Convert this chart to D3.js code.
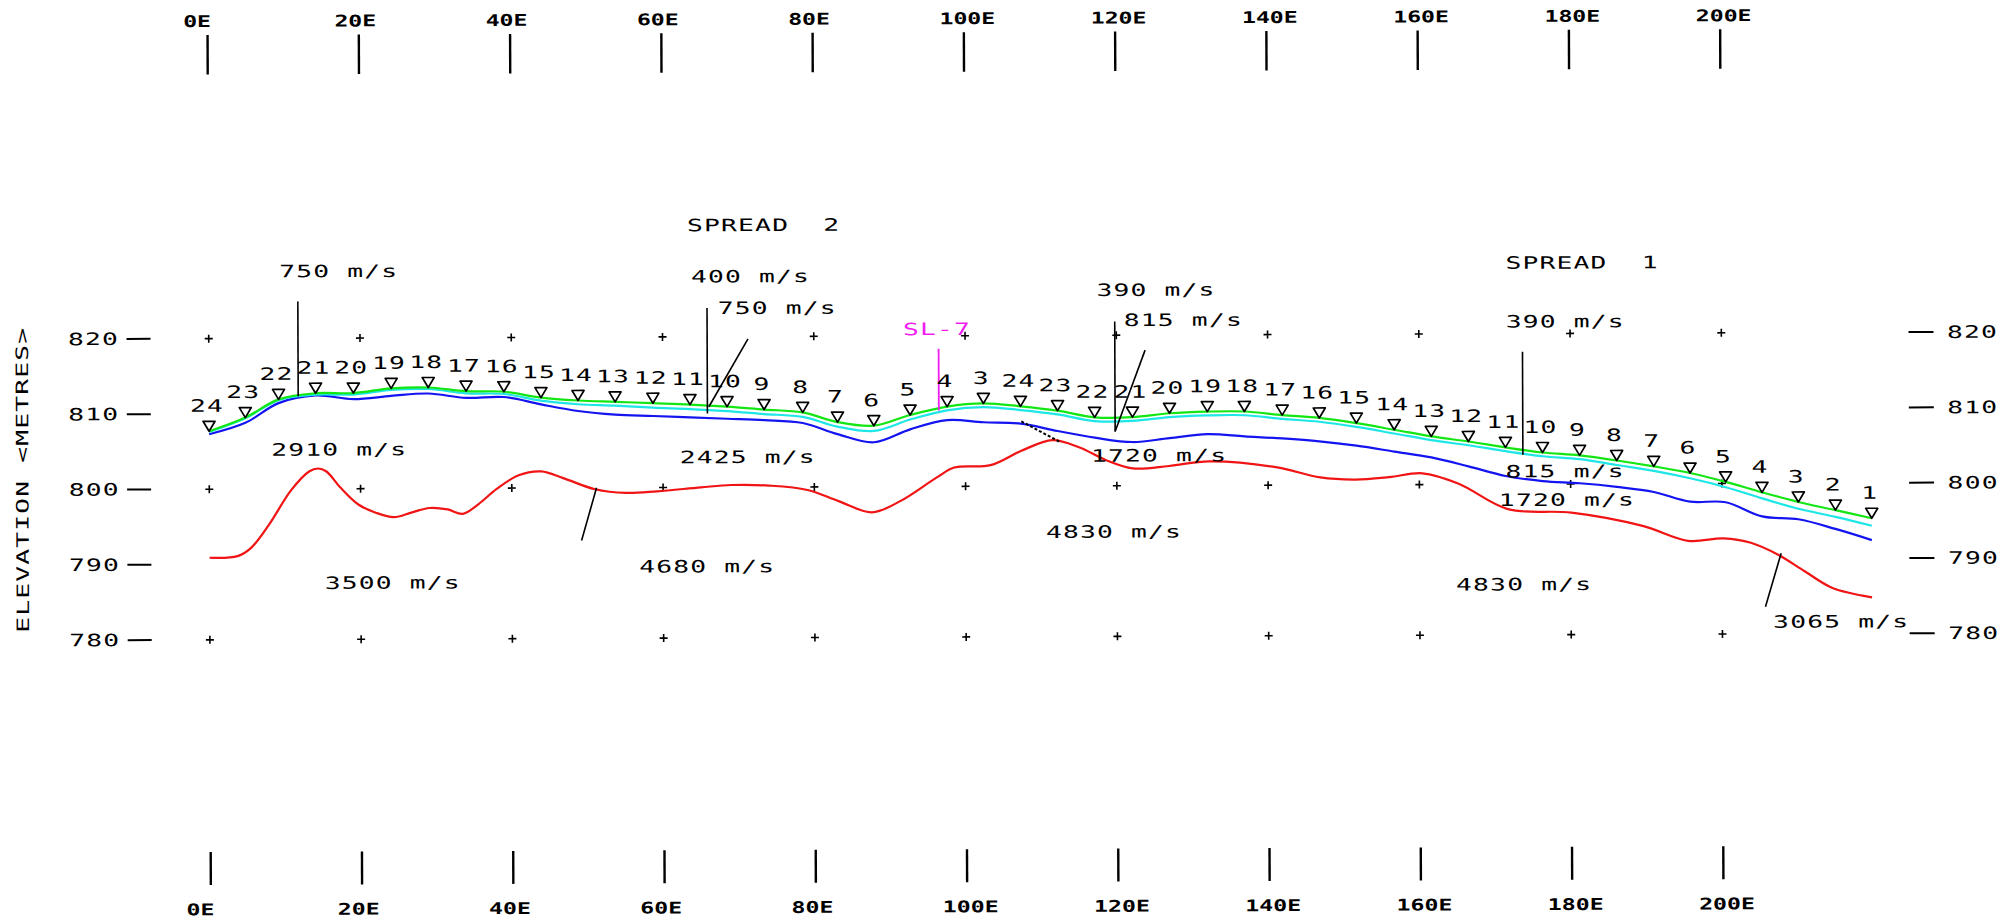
<!DOCTYPE html>
<html>
<head>
<meta charset="utf-8">
<script src="https://cdn.jsdelivr.net/npm/d3@7"></script>
<style>
  body { margin: 0; background: #fff; }
  text { font-family: 'DejaVu Sans Mono', monospace; font-size: 17px; fill: #000; white-space: pre; letter-spacing: 0.75px; }
</style>
</head>
<body>
<div id="chartEl"></div>
<script>
// chainage axis (metres east)
const chainTicks = [0, 20, 40, 60, 80, 100, 120, 140, 160, 180, 200];
const chainTickLabels = ['0E', '20E', '40E', '60E', '80E', '100E', '120E', '140E', '160E', '180E', '200E'];
const elevTicks = [820, 810, 800, 790, 780];
const gridElev = [820, 800, 780];

// geophones: spread 2 (24..3) then spread 1 (24..1)
const stationLabels = [24, 23, 22, 21, 20, 19, 18, 17, 16, 15, 14, 13, 12, 11, 10, 9, 8, 7, 6, 5, 4, 3,
  24, 23, 22, 21, 20, 19, 18, 17, 16, 15, 14, 13, 12, 11, 10, 9, 8, 7, 6, 5, 4, 3, 2, 1];
const stationChain = [0, 4.8, 9.2, 14.1, 19.1, 24.1, 29.0, 34.0, 39.0, 43.9, 48.8, 53.7, 58.7, 63.6, 68.5, 73.4, 78.5, 83.1, 87.9, 92.7, 97.6, 102.4,
  107.3, 112.2, 117.1, 122.1, 127.0, 132.0, 136.9, 141.9, 146.8, 151.7, 156.7, 161.6, 166.5, 171.4, 176.3, 181.2, 186.1, 191.0, 195.8, 200.5, 205.3, 210.1, 215.0, 219.8];
// ground surface at the geophones
const groundElev = [807.7, 809.5, 811.9, 812.7, 812.7, 813.3, 813.4, 812.9, 812.8, 812.0, 811.6, 811.4, 811.2, 811.0, 810.7, 810.3, 809.9, 808.6, 808.1, 809.5, 810.6, 811.0,
  810.6, 810.0, 809.1, 809.1, 809.6, 809.8, 809.8, 809.3, 808.9, 808.2, 807.3, 806.4, 805.7, 804.9, 804.2, 803.8, 803.1, 802.3, 801.4, 800.2, 798.8, 797.5, 796.4, 795.3];
// base of topsoil (cyan)
const cyanElev = [807.6, 809.4, 811.8, 812.5, 812.5, 813.1, 813.2, 812.6, 812.5, 811.6, 811.1, 810.9, 810.6, 810.4, 810.1, 809.7, 809.3, 808.0, 807.4, 808.9, 810.1, 810.5,
  810.1, 809.5, 808.6, 808.6, 809.1, 809.3, 809.3, 808.8, 808.4, 807.7, 806.8, 805.9, 805.2, 804.4, 803.7, 803.3, 802.5, 801.7, 800.7, 799.5, 798.0, 796.6, 795.5, 794.3];
// first refractor (blue)
const blueElev = [807.3, 808.8, 811.4, 812.4, 811.9, 812.3, 812.6, 812.0, 812.1, 811.1, 810.2, 809.7, 809.5, 809.3, 809.1, 808.9, 808.5, 807.0, 805.9, 807.6, 808.8, 808.5,
  808.3, 807.3, 806.4, 805.8, 806.3, 806.8, 806.5, 806.2, 805.8, 805.2, 804.4, 803.6, 802.4, 801.1, 800.4, 800.1, 799.6, 798.9, 797.6, 797.5, 795.6, 795.2, 793.9, 792.4];

// bedrock refractor (red)
const redChain = [0, 3.7, 5.5, 7.9, 10.8, 13.2, 14.4, 15.5, 17.3, 19.7, 22.0, 24.4, 26.7, 29.1, 31.5, 33.5, 35.6, 38.0, 40.9, 43.9,
  46.8, 51.0, 55.1, 59.2, 65.0, 69.0, 74.0, 79.1, 83.2, 87.6, 91.4, 96.2, 98.5, 103.3, 107.4, 111.5, 115.1, 118.6, 122.1, 126.9,
  132.2, 141.0, 146.9, 151.5, 156.0, 160.4, 165.2, 171.7, 180.1, 189.5, 195.5, 200.2, 203.8, 207.4, 210.9, 214.5, 219.8];
const redElev = [790.9, 791.1, 792.2, 795.3, 799.8, 802.3, 802.7, 802.3, 800.2, 797.9, 796.8, 796.2, 796.8, 797.4, 797.2, 796.6, 797.9, 799.9, 801.7, 802.2,
  801.3, 799.8, 799.3, 799.5, 800.0, 800.3, 800.2, 799.6, 798.1, 796.6, 798.1, 801.2, 802.5, 802.8, 804.7, 806.1, 805.1, 803.4, 802.3, 802.6,
  803.2, 802.4, 801.0, 800.7, 801.0, 801.5, 800.1, 796.7, 796.2, 794.4, 792.4, 792.7, 792.1, 790.5, 788.3, 786.1, 784.8];

// annotations, anchored at left edge / middle height, in chainage & elevation
const noteText = ['SPREAD  2', 'SPREAD  1', '750 m/s', '400 m/s', '750 m/s', '390 m/s', '815 m/s', '390 m/s',
  '2910 m/s', '3500 m/s', '4680 m/s', '2425 m/s', '1720 m/s', '4830 m/s', '815 m/s', '1720 m/s', '4830 m/s', '3065 m/s'];
const noteChain = [63.3, 171.5, 9.35, 63.8, 67.3, 117.4, 121.0, 171.5,
  8.2, 15.2, 56.8, 62.2, 116.6, 110.6, 171.4, 170.5, 164.8, 206.7];
const noteElev = [834.8, 829.4, 828.9, 828.0, 823.8, 826.0, 822.0, 821.6,
  805.2, 787.5, 789.5, 804.0, 804.0, 793.9, 801.7, 797.9, 786.7, 781.6];
const lineName = 'SL-7';
const lineNameAt = [91.8, 820.9];

// leader lines [chain1, elev1, chain2, elev2]
const leaders = [
  [11.8, 824.9, 11.8, 812.3],
  [65.9, 823.8, 65.9, 809.8],
  [71.3, 819.7, 66.1, 810.7],
  [119.8, 821.8, 119.8, 807.2],
  [123.8, 818.0, 119.8, 807.2],
  [173.7, 817.6, 173.7, 803.9],
  [51.2, 800.0, 49.2, 793.0],
  [207.8, 790.7, 205.7, 783.6]
];
const sl7Leader = [96.5, 818.3, 96.5, 810.1];
const dottedLeader = [107.4, 808.6, 112.4, 805.9];

const width = 2005;
const height = 920;

const x = d3.scaleLinear().domain([0, 200]).range([209.2, 1721.8]);
const y = d3.scaleLinear().domain([780, 820]).range([636.8, 335.6]);

const svg = d3.select('#chartEl').append('svg')
  .attr('width', width)
  .attr('height', height)
  .style('display', 'block');

// the scan is slightly tilted
const g = svg.append('g').attr('transform', 'rotate(-0.22 1002 460)');

function plotText (parent, str, px, py, anchor, sx) {
  return parent.append('text')
    .attr('transform', 'translate(' + px + ',' + py + ') scale(' + (sx || 1.55) + ',1)')
    .attr('dy', '0.35em')
    .attr('text-anchor', anchor || 'start')
    .text(str);
}

// chainage ticks, top and bottom
chainTicks.forEach((c, i) => {
  g.append('line').attr('x1', x(c)).attr('x2', x(c)).attr('y1', 32).attr('y2', 71.5)
    .attr('stroke', '#000').attr('stroke-width', 2.4);
  g.append('line').attr('x1', x(c)).attr('x2', x(c)).attr('y1', 849).attr('y2', 882)
    .attr('stroke', '#000').attr('stroke-width', 2.4);
  plotText(g, chainTickLabels[i], x(c) - 24.4, 18.3, 'start', 1.45)
    .style('font-weight', 'bold').style('font-size', '16px').style('letter-spacing', '0px');
  plotText(g, chainTickLabels[i], x(c) - 24.4, 906.5, 'start', 1.45)
    .style('font-weight', 'bold').style('font-size', '16px').style('letter-spacing', '0px');
});

// elevation ticks, both sides
elevTicks.forEach(e => {
  plotText(g, String(e), 68.5, y(e));
  g.append('line').attr('x1', 127).attr('x2', 151).attr('y1', y(e)).attr('y2', y(e))
    .attr('stroke', '#000').attr('stroke-width', 2);
  g.append('line').attr('x1', 1909).attr('x2', 1934).attr('y1', y(e)).attr('y2', y(e))
    .attr('stroke', '#000').attr('stroke-width', 2);
  plotText(g, String(e), 1947.5, y(e));
});

g.append('text')
  .attr('transform', 'translate(22.4,476) rotate(-90) scale(1.55,1)')
  .attr('dy', '0.35em')
  .attr('text-anchor', 'middle')
  .text('ELEVATION <METRES>');

// grid crosses
gridElev.forEach(e => {
  chainTicks.forEach(c => {
    g.append('path')
      .attr('d', 'M' + (x(c) - 4) + ',' + y(e) + 'h8M' + x(c) + ',' + (y(e) - 4) + 'v8')
      .attr('stroke', '#000').attr('stroke-width', 1.6);
  });
});

const curve = d3.curveCatmullRom.alpha(0.5);
const stationLine = elev => d3.line()
  .x((d, i) => x(stationChain[i]))
  .y((d, i) => y(elev[i]))
  .curve(curve)(elev);

g.append('path')
  .attr('d', d3.line().x((d, i) => x(redChain[i])).y(d => y(d)).curve(curve)(redElev))
  .attr('fill', 'none').attr('stroke', '#f01414').attr('stroke-width', 2.2);
g.append('path').attr('d', stationLine(blueElev))
  .attr('fill', 'none').attr('stroke', '#1414f0').attr('stroke-width', 2.2);
g.append('path').attr('d', stationLine(cyanElev))
  .attr('fill', 'none').attr('stroke', '#1ee6e6').attr('stroke-width', 2.2);
g.append('path').attr('d', stationLine(groundElev))
  .attr('fill', 'none').attr('stroke', '#14e614').attr('stroke-width', 2.2);

// leaders
leaders.forEach(l => {
  g.append('line').attr('x1', x(l[0])).attr('y1', y(l[1])).attr('x2', x(l[2])).attr('y2', y(l[3]))
    .attr('stroke', '#000').attr('stroke-width', 1.6);
});
g.append('line')
  .attr('x1', x(dottedLeader[0])).attr('y1', y(dottedLeader[1]))
  .attr('x2', x(dottedLeader[2])).attr('y2', y(dottedLeader[3]))
  .attr('stroke', '#000').attr('stroke-width', 2).attr('stroke-dasharray', '3,2');
g.append('line')
  .attr('x1', x(sl7Leader[0])).attr('y1', y(sl7Leader[1]))
  .attr('x2', x(sl7Leader[2])).attr('y2', y(sl7Leader[3]))
  .attr('stroke', '#f01ef0').attr('stroke-width', 1.8);

// geophone triangles and numbers
stationLabels.forEach((s, i) => {
  const px = x(stationChain[i]);
  const py = y(groundElev[i]);
  g.append('path')
    .attr('d', 'M' + (px - 6) + ',' + (py - 10) + 'h12L' + px + ',' + py + 'Z')
    .attr('fill', '#fff').attr('stroke', '#000').attr('stroke-width', 1.7)
    .attr('stroke-linejoin', 'round');
  plotText(g, String(s), px - 2, py - 25.5, 'middle');
});

// velocity notes
noteText.forEach((t, i) => {
  plotText(g, t, x(noteChain[i]), y(noteElev[i]));
});
plotText(g, lineName, x(lineNameAt[0]), y(lineNameAt[1])).style('fill', '#f01ef0');
</script>
</body>
</html>
